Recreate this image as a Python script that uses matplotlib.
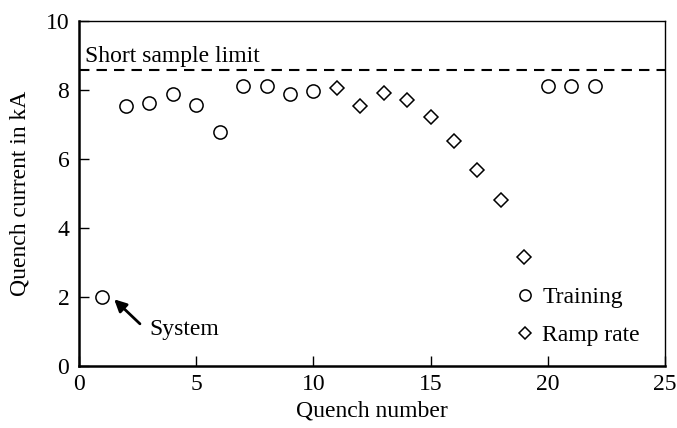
import matplotlib
matplotlib.use('Agg')
import matplotlib.pyplot as plt

plt.rcParams['font.family'] = ['Liberation Serif', 'DejaVu Serif']

# quench history: training quenches and ramp-rate quenches
training_n = [1, 2, 3, 4, 5, 6, 7, 8, 9, 10, 20, 21, 22]
training_i = [2.0, 7.54, 7.61, 7.88, 7.56, 6.78, 8.10, 8.12, 7.89, 7.95, 8.12, 8.12, 8.12]
ramp_n = [11, 12, 13, 14, 15, 16, 17, 18, 19]
ramp_i = [8.04, 7.53, 7.92, 7.69, 7.20, 6.53, 5.67, 4.82, 3.17]
short_sample_limit = 8.56

fs = 17

fig = plt.figure(figsize=(6.77, 4.28), dpi=100)
ax = fig.add_axes([0.1167, 0.145, 0.8656, 0.8066])

ax.plot(training_n, training_i, linestyle='none', marker='o', ms=9.5,
        mfc='white', mec='black', mew=1.1, label='Training')
ax.plot(ramp_n, ramp_i, linestyle='none', marker='D', ms=7.6,
        mfc='white', mec='black', mew=1.1, label='Ramp rate')

ax.axhline(short_sample_limit, color='black', lw=1.5, dashes=(5, 3.4))
ax.text(0.25, 8.8, 'Short sample limit', fontsize=fs, va='baseline', ha='left')

ax.annotate('', xy=(1.5, 1.93), xytext=(2.6, 1.22),
            arrowprops=dict(arrowstyle='-|>', color='black', lw=2.0,
                            mutation_scale=18, shrinkA=0, shrinkB=0))
ax.text(3.0, 1.05, 'System', fontsize=fs, va='center', ha='left')

ax.set_xlim(0, 25)
ax.set_ylim(0, 10)
ax.set_xticks([0, 5, 10, 15, 20, 25])
ax.set_yticks([0, 2, 4, 6, 8, 10])
ax.tick_params(direction='in', length=7, width=1.0, labelsize=fs,
               top=False, right=False)
ax.tick_params(axis='x', pad=6)
ax.tick_params(axis='y', pad=7)
ax.set_xlabel('Quench number', fontsize=fs, labelpad=4)
ax.set_ylabel('Quench current in kA', fontsize=fs, labelpad=11)

for side in ('left', 'bottom'):
    ax.spines[side].set_linewidth(1.8)
for side in ('top', 'right'):
    ax.spines[side].set_linewidth(1.0)

leg = ax.legend(loc='center left', bbox_to_anchor=(18.63, 1.44),
                bbox_transform=ax.transData, frameon=False,
                fontsize=fs, markerscale=0.85, handlelength=0.8,
                handletextpad=0.32, labelspacing=0.68, borderpad=0,
                borderaxespad=0)

fig.savefig('out.png', dpi=100)
